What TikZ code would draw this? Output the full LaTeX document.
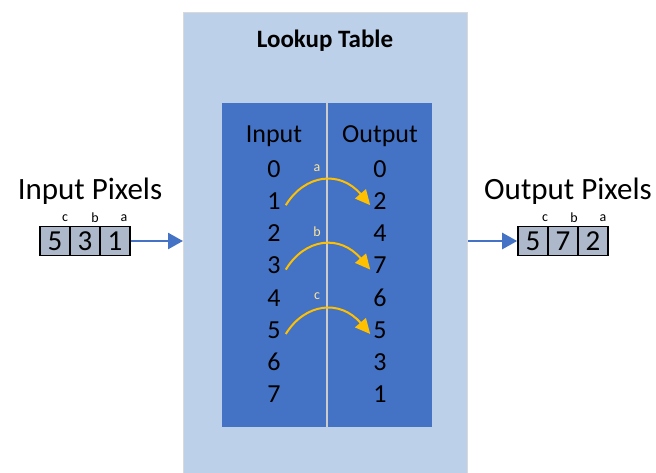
\documentclass[tikz,border=0pt]{standalone}
\usepackage{fontspec}
\setmainfont{Carlito}
\usetikzlibrary{arrows.meta}
\definecolor{lightbg}{HTML}{BDD0E9}
\definecolor{darkbg}{HTML}{4472C4}
\definecolor{pixfill}{HTML}{ADB9CA}
\definecolor{arrowblue}{HTML}{4472C4}
\definecolor{gold}{HTML}{FFC000}
\definecolor{labgold}{HTML}{FFE699}
\tikzset{
  num/.style={font=\fontsize{26}{26}\selectfont, text=black, inner sep=0pt, anchor=center},
  pixcell/.style={draw=black, line width=1.6pt, fill=pixfill, minimum width=30pt, minimum height=29pt, inner sep=0pt, font=\fontsize{29}{29}\selectfont},
  small/.style={font=\fontsize{14}{14}\selectfont, inner sep=0pt},
  title/.style={font=\fontsize{31}{31}\selectfont, inner sep=0pt},
  mapping/.style={draw=gold, line width=2pt, -{Triangle[length=15pt,width=14pt]}},
  feed/.style={draw=arrowblue, line width=2.5pt, -{Triangle[length=15pt,width=16pt]}},
  glabel/.style={font=\fontsize{14}{14}\selectfont, text=labgold, inner sep=0pt}
}
\begin{document}
\begin{tikzpicture}[x=1pt,y=-1pt]
\useasboundingbox (0,0) rectangle (656,472);
% outer lookup box
\node[draw=black!15, fill=lightbg, line width=1pt, minimum width=284pt, minimum height=470pt, inner sep=0pt, anchor=north west] (lut) at (183,12) {};
\node[font=\fontsize{25}{25}\selectfont\bfseries, inner sep=0pt] (luttitle) at (325,41) {Lookup Table};
% inner table
\node[fill=darkbg, minimum width=210pt, minimum height=324pt, inner sep=0pt, anchor=north west] (tbl) at (222,103) {};
\coordinate (divtop) at (327,103);
\coordinate (divbot) at (327,427);
\draw[draw=black!20, line width=1.2pt] (divtop) -- (divbot);
\node[num] (inhead) at (274,136) {Input};
\node[num] (outhead) at (380,136) {Output};
\foreach \i/\o [count=\k from 0] in {0/0,1/2,2/4,3/7,4/6,5/5,6/3,7/1}{
  \node[num] (in\k) at (274,{169+32.2*\k}) {\i};
  \node[num] (out\k) at (380,{169+32.2*\k}) {\o};
}
% mapping arrows
\draw[mapping] ([xshift=5pt,yshift=-4pt]in1.east) .. controls (305,174) and (340,170) .. ([xshift=-3pt,yshift=-4pt]out1.west);
\node[glabel] (la) at (317,168) {a};
\draw[mapping] ([xshift=5pt,yshift=-4pt]in3.east) .. controls (305,238) and (340,234) .. ([xshift=-3pt,yshift=-4pt]out3.west);
\node[glabel] (lb) at (317,232) {b};
\draw[mapping] ([xshift=5pt,yshift=-4pt]in5.east) .. controls (305,303) and (340,299) .. ([xshift=-3pt,yshift=-4pt]out5.west);
\node[glabel] (lc) at (317,296) {c};
% input pixels
\node[title] (intitle) at (90,191) {Input Pixels};
\node[pixcell] (ic) at (55,241) {5};
\node[pixcell] (ib) at (85,241) {3};
\node[pixcell] (ia) at (115,241) {1};
\node[small] (icl) at (65,218) {c};
\node[small] (ibl) at (95,218) {b};
\node[small] (ial) at (124,218) {a};
\draw[feed] (ia.east) -- (ia.east -| lut.west);
% output pixels
\node[title] (outtitle) at (568,191) {Output Pixels};
\node[pixcell] (oc) at (533,241) {5};
\node[pixcell] (ob) at (563,241) {7};
\node[pixcell] (oa) at (593,241) {2};
\node[small] (ocl) at (545,218) {c};
\node[small] (obl) at (574,218) {b};
\node[small] (oal) at (603,218) {a};
\draw[feed] (oc.west -| lut.east) -- (oc.west);
\end{tikzpicture}
\end{document}
